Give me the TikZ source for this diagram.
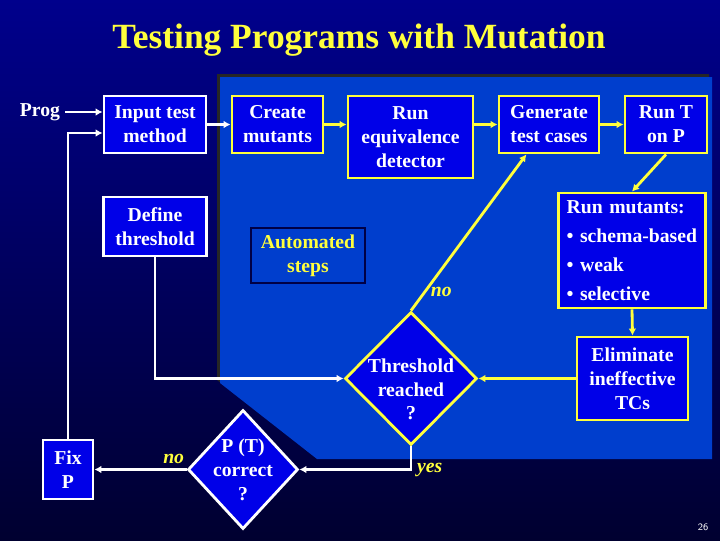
\documentclass[tikz,border=0pt]{standalone}
\usepackage{fontspec}
\setmainfont{Liberation Serif}
\usetikzlibrary{arrows.meta,positioning,shapes.geometric,calc}
\definecolor{bgtop}{RGB}{0,0,140}
\definecolor{bgbot}{RGB}{0,0,48}
\definecolor{autoblue}{RGB}{0,62,205}
\definecolor{autoedge}{RGB}{0,0,70}
\definecolor{boxblue}{RGB}{0,0,232}
\definecolor{slideyellow}{RGB}{255,255,60}

\begin{document}
\begin{tikzpicture}[
    x=0.025cm, y=-0.025cm,
    >={Latex[length=5pt,width=5.5pt]},
    every node/.style={font=\bfseries\fontsize{14}{17}\selectfont, text=white},
    wbox/.style={
        draw=white,
        line width=2pt,
        fill=boxblue,
        align=center,
        inner sep=2pt
    },
    ybox/.style={wbox, draw=slideyellow},
    dia/.style={diamond, draw=slideyellow, line width=2pt, fill=boxblue, inner sep=0pt},
    dtext/.style={align=center},
    warr/.style={->, draw=white, line width=2pt},
    yarr/.style={->, draw=slideyellow, line width=2pt},
    ans/.style={text=slideyellow, font=\bfseries\itshape\fontsize{14}{17}\selectfont}
]

\useasboundingbox (0,0) rectangle (720,540);
\shade[top color=bgtop, bottom color=bgbot] (0,0) rectangle (720,540);

\fill[black!85] (217,74) -- (709,74) -- (709,456) -- (314,456) -- (217,380) -- cycle;
\fill[autoblue] (220,77) -- (712,77) -- (712,459) -- (317,459) -- (220,383) -- cycle;

\node[font=\bfseries\fontsize{25.2}{30}\selectfont, text=slideyellow] (title) at (359,40)
    {Testing Programs with Mutation};

\node (prog) at (40,112) {Prog};

\node[wbox, minimum width=2.55cm, minimum height=1.425cm] (inp) at (155,124.5) {Input test\\method};
\node[ybox, minimum width=2.275cm, minimum height=1.425cm] (mut) at (277.5,124.5) {Create\\mutants};
\node[ybox, minimum width=3.125cm, minimum height=2.05cm] (equiv) at (410.5,137) {Run\\equivalence\\detector};
\node[ybox, minimum width=2.5cm, minimum height=1.425cm] (gen) at (549,124.5) {Generate\\test cases};
\node[ybox, minimum width=2.05cm, minimum height=1.425cm] (runT) at (666,124.5) {Run T\\on P};

\node[ybox, align=left, text width=93pt, inner xsep=5.5pt, minimum height=2.875cm,
      font=\bfseries\fontsize{14}{20.5}\selectfont] (runM) at (632,250.5)
    {Run mutants:\\• schema-based\\• weak\\• selective};

\node[ybox, minimum width=2.775cm, minimum height=2.075cm] (elim) at (632.5,378.5) {Eliminate\\ineffective\\TCs};

\node[wbox, minimum width=2.575cm, minimum height=1.475cm] (def) at (155,226.5) {Define\\threshold};

\node[wbox, draw=autoedge, fill=autoblue, text=slideyellow, minimum width=2.85cm, minimum height=1.375cm] (auto) at (308,255.5) {Automated\\steps};

\node[dia, minimum width=3.3cm, minimum height=3.325cm,
      label={[dtext, yshift=-0.27cm]center:{Threshold\\reached\\?}}] (thr) at (411,378.5) {};
\node[dia, draw=white, minimum width=2.75cm, minimum height=2.975cm,
      label={[dtext]center:{P (T)\\correct\\?}}] (ptc) at (243,469.5) {};

\node[wbox, minimum width=1.25cm, minimum height=1.475cm] (fix) at (68,469.5) {Fix\\P};

\node[font=\sffamily\fontsize{7}{8}\selectfont] (pg) at (703,527) {26};

\draw[warr] (prog.east) -- (prog.east -| inp.west);
\draw[warr] (fix.north) |- ([yshift=-0.2125cm]inp.west);
\draw[warr] (inp.east) -- (mut.west);
\draw[yarr] (mut.east) -- (mut.east -| equiv.west);
\draw[yarr] (equiv.east |- gen.west) -- (gen.west);
\draw[yarr] (gen.east) -- (runT.west);
\draw[yarr] (runT.south) -- (runM.north);
\draw[yarr] (runM.south) -- (elim.north);
\draw[yarr] (elim.west) -- (thr.east);
\draw[yarr] (thr.north) -- node[ans, pos=0.12, right] {no} ($(gen.south west)!0.28!(gen.south east)$);
\draw[warr] (def.south) |- (thr.west);
\draw[warr] (thr.south) |- node[ans, pos=0.5, right] {yes} (ptc.east);
\draw[warr] (ptc.west) -- node[ans, pos=0.14, above] {no} (fix.east);

\end{tikzpicture}
\end{document}
